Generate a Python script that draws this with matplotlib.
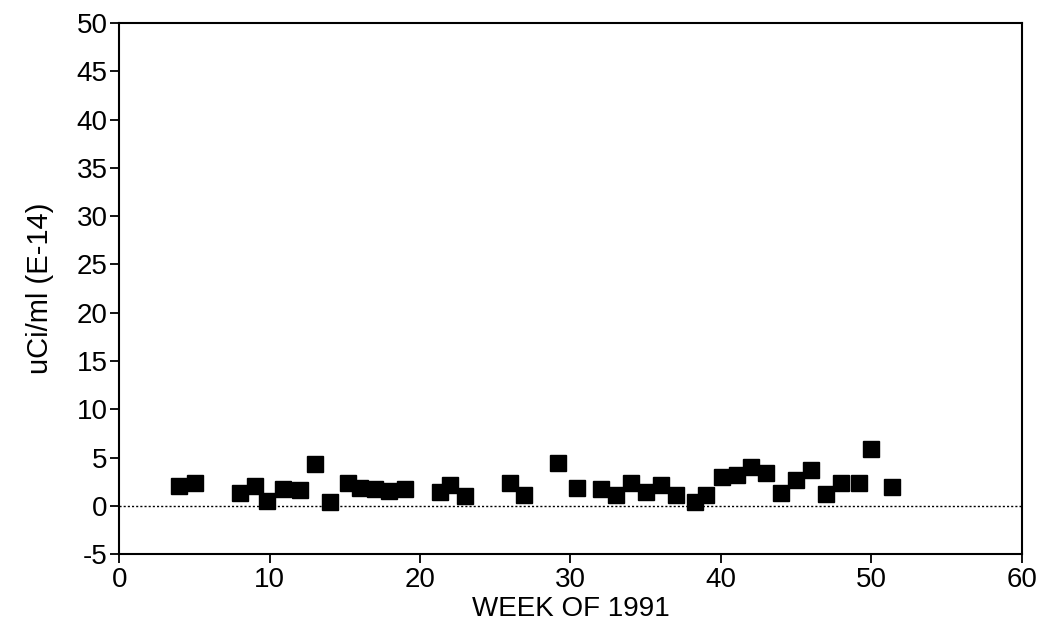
import matplotlib.pyplot as plt

# Weekly values
weeks = [4, 5, 8, 9, 9.8, 10.9, 12, 13, 14, 15.2, 16, 17, 17.9, 19,
         21.3, 22, 23, 26, 26.9, 29.2, 30.4, 32, 33, 34, 35, 36, 37,
         38.3, 39, 40.1, 41.1, 42, 43, 44, 45, 46, 47, 48, 49.2, 50, 51.4]
values = [2.1, 2.4, 1.3, 2.1, 0.5, 1.7, 1.6, 4.3, 0.4, 2.4, 1.9, 1.7, 1.5, 1.8,
          1.45, 2.2, 1.0, 2.4, 1.15, 4.4, 1.9, 1.7, 1.1, 2.4, 1.45, 2.2, 1.1,
          0.45, 1.1, 3.0, 3.15, 4.05, 3.45, 1.35, 2.7, 3.7, 1.25, 2.35, 2.35, 5.85, 1.95]

xticks = [0, 10, 20, 30, 40, 50, 60]
yticks = [-5, 0, 5, 10, 15, 20, 25, 30, 35, 40, 45, 50]

plt.rcParams['font.family'] = ['Liberation Sans', 'DejaVu Sans']
plt.rcParams['axes.unicode_minus'] = False

fig = plt.figure(figsize=(10.42, 6.37), dpi=100)
ax = fig.add_axes([0.1145, 0.13, 0.866, 0.834])

# zero reference line
ax.axhline(0, color='black', linestyle=(0, (1.5, 1.5)), linewidth=1)

ax.plot(weeks, values, linestyle='none', marker='s', markersize=11,
        color='black')

ax.set_xlim(0, 60)
ax.set_ylim(-5, 50)
ax.set_xticks(xticks)
ax.set_yticks(yticks)
ax.tick_params(direction='out', length=6.5, width=1.3, labelsize=20,
               top=False, right=False)
ax.tick_params(axis='y', pad=2)
ax.tick_params(axis='x', pad=3)

for s in ax.spines.values():
    s.set_linewidth(1.5)

ax.set_xlabel('WEEK OF 1991', fontsize=20, labelpad=2)
ax.set_ylabel('uCi/ml (E-14)', fontsize=21, labelpad=16)

plt.savefig('out.png', dpi=100)
